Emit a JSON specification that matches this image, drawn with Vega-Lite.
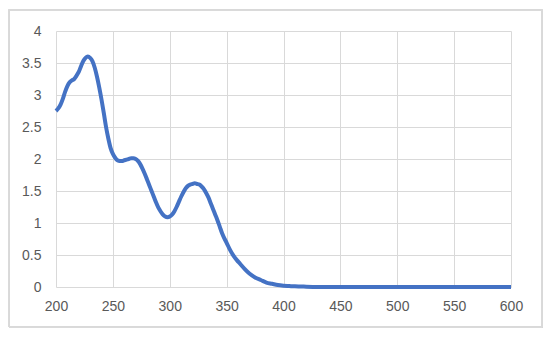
{
  "$schema": "https://vega.github.io/schema/vega-lite/v6.json",
  "width": 455,
  "height": 256,
  "autosize": {"type": "none"},
  "padding": {"left": 56, "top": 31, "right": 39, "bottom": 52},
  "background": "white",
  "config": {
    "view": {"stroke": null},
    "axis": {
      "gridColor": "#d9d9d9",
      "gridWidth": 1,
      "domain": false,
      "ticks": false,
      "labelFont": "Liberation Sans",
      "labelFontSize": 14,
      "labelColor": "#595959",
      "labelFlush": false,
      "labelOverlap": false,
      "title": null
    }
  },
  "data": {
    "values": [
      {"wl": 200, "abs": 2.75}, {"wl": 202, "abs": 2.79}, {"wl": 204, "abs": 2.85}, {"wl": 206, "abs": 2.94},
      {"wl": 208, "abs": 3.05}, {"wl": 210, "abs": 3.14}, {"wl": 212, "abs": 3.2}, {"wl": 214, "abs": 3.23},
      {"wl": 216, "abs": 3.25}, {"wl": 218, "abs": 3.3}, {"wl": 220, "abs": 3.36}, {"wl": 222, "abs": 3.45},
      {"wl": 224, "abs": 3.53}, {"wl": 226, "abs": 3.58}, {"wl": 228, "abs": 3.6}, {"wl": 230, "abs": 3.58},
      {"wl": 232, "abs": 3.53}, {"wl": 234, "abs": 3.43}, {"wl": 236, "abs": 3.29}, {"wl": 238, "abs": 3.12},
      {"wl": 240, "abs": 2.93}, {"wl": 242, "abs": 2.72}, {"wl": 244, "abs": 2.5}, {"wl": 246, "abs": 2.32},
      {"wl": 248, "abs": 2.17}, {"wl": 250, "abs": 2.08}, {"wl": 252, "abs": 2.02}, {"wl": 254, "abs": 1.98},
      {"wl": 256, "abs": 1.97}, {"wl": 258, "abs": 1.97}, {"wl": 260, "abs": 1.98}, {"wl": 262, "abs": 1.99},
      {"wl": 264, "abs": 2.0}, {"wl": 266, "abs": 2.01}, {"wl": 268, "abs": 2.01}, {"wl": 270, "abs": 2.0},
      {"wl": 272, "abs": 1.97}, {"wl": 274, "abs": 1.92}, {"wl": 276, "abs": 1.85}, {"wl": 278, "abs": 1.77},
      {"wl": 280, "abs": 1.68}, {"wl": 282, "abs": 1.59}, {"wl": 284, "abs": 1.5}, {"wl": 286, "abs": 1.41},
      {"wl": 288, "abs": 1.32}, {"wl": 290, "abs": 1.24}, {"wl": 292, "abs": 1.18}, {"wl": 294, "abs": 1.13},
      {"wl": 296, "abs": 1.1}, {"wl": 298, "abs": 1.09}, {"wl": 300, "abs": 1.1}, {"wl": 302, "abs": 1.13},
      {"wl": 304, "abs": 1.18}, {"wl": 306, "abs": 1.25}, {"wl": 308, "abs": 1.33}, {"wl": 310, "abs": 1.41},
      {"wl": 312, "abs": 1.48}, {"wl": 314, "abs": 1.54}, {"wl": 316, "abs": 1.58}, {"wl": 318, "abs": 1.6},
      {"wl": 320, "abs": 1.61}, {"wl": 322, "abs": 1.62}, {"wl": 324, "abs": 1.61}, {"wl": 326, "abs": 1.6},
      {"wl": 328, "abs": 1.57}, {"wl": 330, "abs": 1.53}, {"wl": 332, "abs": 1.47}, {"wl": 334, "abs": 1.4},
      {"wl": 336, "abs": 1.31}, {"wl": 338, "abs": 1.22}, {"wl": 340, "abs": 1.13}, {"wl": 342, "abs": 1.04},
      {"wl": 344, "abs": 0.94}, {"wl": 346, "abs": 0.84}, {"wl": 348, "abs": 0.76}, {"wl": 350, "abs": 0.69},
      {"wl": 353, "abs": 0.58}, {"wl": 356, "abs": 0.49}, {"wl": 359, "abs": 0.42}, {"wl": 362, "abs": 0.36},
      {"wl": 366, "abs": 0.28}, {"wl": 370, "abs": 0.21}, {"wl": 375, "abs": 0.15}, {"wl": 380, "abs": 0.11},
      {"wl": 385, "abs": 0.07}, {"wl": 390, "abs": 0.05}, {"wl": 395, "abs": 0.03}, {"wl": 400, "abs": 0.02},
      {"wl": 405, "abs": 0.015}, {"wl": 410, "abs": 0.01}, {"wl": 420, "abs": 0.005}, {"wl": 440, "abs": 0},
      {"wl": 480, "abs": 0}, {"wl": 520, "abs": 0}, {"wl": 560, "abs": 0}, {"wl": 600, "abs": 0}
    ]
  },
  "layer": [
    {
      "mark": {"type": "line", "color": "#4472C4", "strokeWidth": 4, "strokeCap": "butt", "strokeJoin": "round", "interpolate": "monotone"},
      "encoding": {
        "x": {
          "field": "wl", "type": "quantitative",
          "scale": {"domain": [200, 600], "nice": false, "zero": false},
          "axis": {"values": [200, 250, 300, 350, 400, 450, 500, 550, 600], "labelPadding": 12, "format": "d"}
        },
        "y": {
          "field": "abs", "type": "quantitative",
          "scale": {"domain": [0, 4], "nice": false},
          "axis": {"values": [0, 0.5, 1, 1.5, 2, 2.5, 3, 3.5, 4], "labelPadding": 15, "format": "~g"}
        }
      }
    },
    {
      "mark": {"type": "rect", "fill": null, "stroke": "#d9d9d9", "strokeWidth": 1, "clip": false},
      "encoding": {
        "x": {"datum": 158.7, "type": "quantitative", "scale": {"domain": [200, 600], "nice": false, "zero": false},
          "axis": {"values": [200, 250, 300, 350, 400, 450, 500, 550, 600], "labelPadding": 12, "format": "d"}},
        "x2": {"datum": 627.3},
        "y": {"datum": 4.33, "type": "quantitative", "scale": {"domain": [0, 4], "nice": false},
          "axis": {"values": [0, 0.5, 1, 1.5, 2, 2.5, 3, 3.5, 4], "labelPadding": 15, "format": "~g"}},
        "y2": {"datum": -0.625}
      }
    }
  ]
}
